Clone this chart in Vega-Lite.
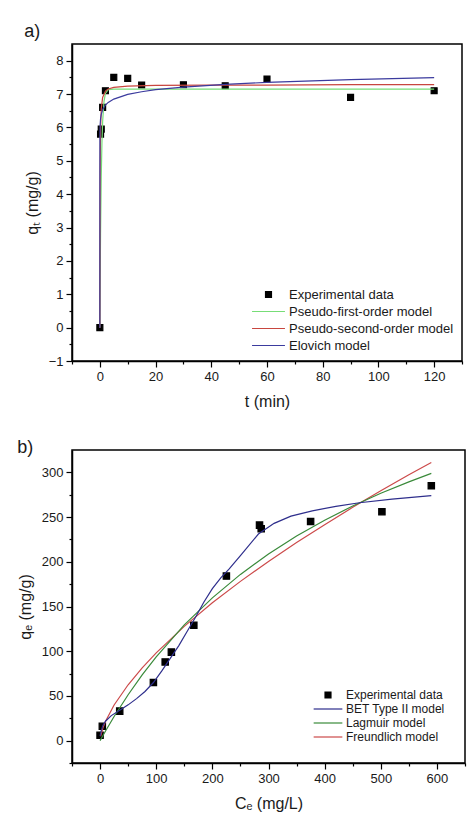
{
  "$schema": "https://vega.github.io/schema/vega-lite/v6.json",
  "padding": {"left": 16, "top": 22, "right": 4, "bottom": 4},
  "background": "white",
  "spacing": 28,
  "resolve": {"scale": {"color": "independent", "shape": "independent"}, "legend": {"color": "independent", "shape": "independent"}},
  "config": {
    "font": "Liberation Sans",
    "view": {"stroke": "black", "strokeWidth": 1.5},
    "axis": {
      "labelFontSize": 13, "titleFontSize": 16, "titleFontWeight": "normal",
      "labelColor": "#1a1a1a", "titleColor": "#1a1a1a",
      "domainColor": "black", "domainWidth": 1.5, "tickColor": "black", "tickWidth": 1.2,
      "labelPadding": 3, "grid": false, "labelFlush": false, "titlePadding": 8, "tickSize": 6
    },
    "title": {"fontSize": 18, "fontWeight": "normal", "anchor": "start", "frame": "bounds", "color": "#1a1a1a"},
    "legend": {"title": null, "padding": 0, "labelColor": "#1a1a1a", "symbolStrokeWidth": 1.2, "symbolSize": 49, "labelLimit": 300}
  },
  "datasets": {
    "kinPoints": [
      {"series": "Experimental data", "t": 0, "q": 0},
      {"series": "Experimental data", "t": 0.25, "q": 5.8},
      {"series": "Experimental data", "t": 0.5, "q": 5.95},
      {"series": "Experimental data", "t": 1, "q": 6.6},
      {"series": "Experimental data", "t": 2, "q": 7.1},
      {"series": "Experimental data", "t": 5, "q": 7.5},
      {"series": "Experimental data", "t": 10, "q": 7.47},
      {"series": "Experimental data", "t": 15, "q": 7.27},
      {"series": "Experimental data", "t": 30, "q": 7.28},
      {"series": "Experimental data", "t": 45, "q": 7.25},
      {"series": "Experimental data", "t": 60, "q": 7.45},
      {"series": "Experimental data", "t": 90, "q": 6.9},
      {"series": "Experimental data", "t": 120, "q": 7.1}
    ],
    "kinCurves": [
      {"series": "Pseudo-first-order model", "t": 0, "q": 0},
      {"series": "Pseudo-first-order model", "t": 0.05, "q": 0.68},
      {"series": "Pseudo-first-order model", "t": 0.1, "q": 1.3},
      {"series": "Pseudo-first-order model", "t": 0.25, "q": 2.81},
      {"series": "Pseudo-first-order model", "t": 0.5, "q": 4.52},
      {"series": "Pseudo-first-order model", "t": 0.75, "q": 5.55},
      {"series": "Pseudo-first-order model", "t": 1, "q": 6.18},
      {"series": "Pseudo-first-order model", "t": 1.5, "q": 6.79},
      {"series": "Pseudo-first-order model", "t": 2, "q": 7.02},
      {"series": "Pseudo-first-order model", "t": 3, "q": 7.13},
      {"series": "Pseudo-first-order model", "t": 5, "q": 7.15},
      {"series": "Pseudo-first-order model", "t": 30, "q": 7.15},
      {"series": "Pseudo-first-order model", "t": 60, "q": 7.15},
      {"series": "Pseudo-first-order model", "t": 120, "q": 7.15},
      {"series": "Pseudo-second-order model", "t": 0, "q": 0},
      {"series": "Pseudo-second-order model", "t": 0.02, "q": 1.94},
      {"series": "Pseudo-second-order model", "t": 0.05, "q": 3.47},
      {"series": "Pseudo-second-order model", "t": 0.1, "q": 4.7},
      {"series": "Pseudo-second-order model", "t": 0.25, "q": 5.97},
      {"series": "Pseudo-second-order model", "t": 0.5, "q": 6.56},
      {"series": "Pseudo-second-order model", "t": 1, "q": 6.9},
      {"series": "Pseudo-second-order model", "t": 2, "q": 7.09},
      {"series": "Pseudo-second-order model", "t": 3, "q": 7.15},
      {"series": "Pseudo-second-order model", "t": 5, "q": 7.2},
      {"series": "Pseudo-second-order model", "t": 10, "q": 7.24},
      {"series": "Pseudo-second-order model", "t": 20, "q": 7.26},
      {"series": "Pseudo-second-order model", "t": 40, "q": 7.27},
      {"series": "Pseudo-second-order model", "t": 60, "q": 7.27},
      {"series": "Pseudo-second-order model", "t": 90, "q": 7.28},
      {"series": "Pseudo-second-order model", "t": 120, "q": 7.28},
      {"series": "Elovich model", "t": 0, "q": 0},
      {"series": "Elovich model", "t": 0.02, "q": 5.75},
      {"series": "Elovich model", "t": 0.1, "q": 6.07},
      {"series": "Elovich model", "t": 0.25, "q": 6.26},
      {"series": "Elovich model", "t": 0.5, "q": 6.39},
      {"series": "Elovich model", "t": 1, "q": 6.53},
      {"series": "Elovich model", "t": 2, "q": 6.67},
      {"series": "Elovich model", "t": 3, "q": 6.75},
      {"series": "Elovich model", "t": 5, "q": 6.85},
      {"series": "Elovich model", "t": 10, "q": 6.99},
      {"series": "Elovich model", "t": 15, "q": 7.07},
      {"series": "Elovich model", "t": 20, "q": 7.13},
      {"series": "Elovich model", "t": 30, "q": 7.21},
      {"series": "Elovich model", "t": 45, "q": 7.29},
      {"series": "Elovich model", "t": 60, "q": 7.35},
      {"series": "Elovich model", "t": 90, "q": 7.43},
      {"series": "Elovich model", "t": 120, "q": 7.49}
    ],
    "isoPoints": [
      {"series": "Experimental data", "C": 0, "q": 6},
      {"series": "Experimental data", "C": 4, "q": 16},
      {"series": "Experimental data", "C": 35, "q": 33},
      {"series": "Experimental data", "C": 95, "q": 65},
      {"series": "Experimental data", "C": 116, "q": 88},
      {"series": "Experimental data", "C": 127, "q": 99},
      {"series": "Experimental data", "C": 167, "q": 129},
      {"series": "Experimental data", "C": 225, "q": 184},
      {"series": "Experimental data", "C": 284, "q": 241},
      {"series": "Experimental data", "C": 287, "q": 237},
      {"series": "Experimental data", "C": 375, "q": 245},
      {"series": "Experimental data", "C": 502, "q": 256},
      {"series": "Experimental data", "C": 590, "q": 285}
    ],
    "isoCurves": [
      {"series": "Freundlich model", "C": 1, "q": 4.92},
      {"series": "Freundlich model", "C": 5, "q": 14.0},
      {"series": "Freundlich model", "C": 10, "q": 22.0},
      {"series": "Freundlich model", "C": 25, "q": 39.9},
      {"series": "Freundlich model", "C": 50, "q": 62.5},
      {"series": "Freundlich model", "C": 75, "q": 81.4},
      {"series": "Freundlich model", "C": 100, "q": 98.2},
      {"series": "Freundlich model", "C": 150, "q": 127.8},
      {"series": "Freundlich model", "C": 200, "q": 154.1},
      {"series": "Freundlich model", "C": 250, "q": 178.1},
      {"series": "Freundlich model", "C": 300, "q": 200.4},
      {"series": "Freundlich model", "C": 350, "q": 221.5},
      {"series": "Freundlich model", "C": 400, "q": 241.5},
      {"series": "Freundlich model", "C": 450, "q": 260.9},
      {"series": "Freundlich model", "C": 500, "q": 279.5},
      {"series": "Freundlich model", "C": 550, "q": 297.3},
      {"series": "Freundlich model", "C": 590, "q": 311},
      {"series": "Lagmuir model", "C": 0, "q": 0},
      {"series": "Lagmuir model", "C": 10, "q": 11.1},
      {"series": "Lagmuir model", "C": 25, "q": 27.0},
      {"series": "Lagmuir model", "C": 50, "q": 51.3},
      {"series": "Lagmuir model", "C": 75, "q": 73.5},
      {"series": "Lagmuir model", "C": 100, "q": 93.7},
      {"series": "Lagmuir model", "C": 150, "q": 129.4},
      {"series": "Lagmuir model", "C": 200, "q": 159.7},
      {"series": "Lagmuir model", "C": 250, "q": 185.9},
      {"series": "Lagmuir model", "C": 300, "q": 208.7},
      {"series": "Lagmuir model", "C": 350, "q": 228.8},
      {"series": "Lagmuir model", "C": 400, "q": 246.5},
      {"series": "Lagmuir model", "C": 450, "q": 262.4},
      {"series": "Lagmuir model", "C": 500, "q": 276.6},
      {"series": "Lagmuir model", "C": 550, "q": 289.4},
      {"series": "Lagmuir model", "C": 590, "q": 298.8},
      {"series": "BET Type II model", "C": 0, "q": 5},
      {"series": "BET Type II model", "C": 2, "q": 11},
      {"series": "BET Type II model", "C": 5, "q": 17},
      {"series": "BET Type II model", "C": 10, "q": 22},
      {"series": "BET Type II model", "C": 20, "q": 28},
      {"series": "BET Type II model", "C": 35, "q": 34},
      {"series": "BET Type II model", "C": 50, "q": 40},
      {"series": "BET Type II model", "C": 65, "q": 47},
      {"series": "BET Type II model", "C": 80, "q": 55},
      {"series": "BET Type II model", "C": 95, "q": 65},
      {"series": "BET Type II model", "C": 110, "q": 78},
      {"series": "BET Type II model", "C": 125, "q": 92},
      {"series": "BET Type II model", "C": 140, "q": 106},
      {"series": "BET Type II model", "C": 155, "q": 122},
      {"series": "BET Type II model", "C": 170, "q": 138},
      {"series": "BET Type II model", "C": 185, "q": 155},
      {"series": "BET Type II model", "C": 200, "q": 170},
      {"series": "BET Type II model", "C": 215, "q": 182},
      {"series": "BET Type II model", "C": 230, "q": 192},
      {"series": "BET Type II model", "C": 250, "q": 207},
      {"series": "BET Type II model", "C": 282, "q": 231},
      {"series": "BET Type II model", "C": 310, "q": 243},
      {"series": "BET Type II model", "C": 340, "q": 251},
      {"series": "BET Type II model", "C": 378, "q": 257},
      {"series": "BET Type II model", "C": 420, "q": 262},
      {"series": "BET Type II model", "C": 462, "q": 266},
      {"series": "BET Type II model", "C": 520, "q": 270},
      {"series": "BET Type II model", "C": 590, "q": 274}
    ]
  },
  "vconcat": [
    {
      "width": 390,
      "height": 317,
      "title": {"text": "a)", "offset": 3},
      "resolve": {"axis": {"x": "independent", "y": "independent"}},
      "layer": [
        {
          "data": {"name": "kinPoints"},
          "mark": {"type": "point", "filled": false, "fill": "black", "fillOpacity": 1, "strokeWidth": 1.2, "size": 49, "opacity": 1},
          "encoding": {
            "x": {"field": "t", "type": "quantitative",
              "scale": {"domain": [-10, 130], "nice": false, "zero": false},
              "axis": {"title": "t (min)", "titlePadding": 10, "orient": "bottom",
                "values": [0, 20, 40, 60, 80, 100, 120]}},
            "y": {"field": "q", "type": "quantitative",
              "scale": {"domain": [-1, 8.5], "nice": false, "zero": false},
              "axis": {"title": "qₜ (mg/g)", "orient": "left",
                "values": [-1, 0, 1, 2, 3, 4, 5, 6, 7, 8]}},
            "color": {"field": "series", "type": "nominal",
              "scale": {"domain": ["Experimental data", "Pseudo-first-order model", "Pseudo-second-order model", "Elovich model"],
                "range": ["#000000", "#77dd77", "#c8463f", "#3b3b9e"]},
              "legend": {"orient": "bottom-right", "offset": 8, "labelFontSize": 13, "rowPadding": 3, "labelOffset": 14}},
            "shape": {"field": "series", "type": "nominal",
              "scale": {"domain": ["Experimental data", "Pseudo-first-order model", "Pseudo-second-order model", "Elovich model"],
                "range": ["M-0.85,-0.85H0.85V0.85H-0.85Z", "M-4.7,0H4.7", "M-4.7,0H4.7", "M-4.7,0H4.7"]},
              "legend": {"orient": "bottom-right", "offset": 8, "labelFontSize": 13, "rowPadding": 3, "labelOffset": 14}}
          }
        },
        {
          "data": {"name": "kinCurves"},
          "mark": {"type": "line", "strokeWidth": 1.2},
          "encoding": {
            "x": {"field": "t", "type": "quantitative",
              "scale": {"domain": [-10, 130], "nice": false, "zero": false},
              "axis": {"title": null, "orient": "bottom", "labels": false, "domain": false, "tickSize": 3,
                "values": [-10, 10, 30, 50, 70, 90, 110, 130]}},
            "y": {"field": "q", "type": "quantitative",
              "scale": {"domain": [-1, 8.5], "nice": false, "zero": false},
              "axis": {"title": null, "orient": "left", "labels": false, "domain": false, "tickSize": 3,
                "values": [-0.5, 0.5, 1.5, 2.5, 3.5, 4.5, 5.5, 6.5, 7.5]}},
            "color": {"field": "series", "type": "nominal", "legend": null}
          }
        }
      ]
    },
    {
      "width": 393,
      "height": 313,
      "title": {"text": "b)", "offset": -7},
      "resolve": {"axis": {"x": "independent", "y": "independent"}},
      "layer": [
        {
          "data": {"name": "isoPoints"},
          "mark": {"type": "point", "filled": false, "fill": "black", "fillOpacity": 1, "strokeWidth": 1.2, "size": 56, "opacity": 1},
          "encoding": {
            "x": {"field": "C", "type": "quantitative",
              "scale": {"domain": [-50, 650], "nice": false, "zero": false},
              "axis": {"title": "Cₑ (mg/L)", "titlePadding": 10, "orient": "bottom",
                "values": [0, 100, 200, 300, 400, 500, 600]}},
            "y": {"field": "q", "type": "quantitative",
              "scale": {"domain": [-25, 325], "nice": false, "zero": false},
              "axis": {"title": "qₑ (mg/g)", "orient": "left",
                "values": [0, 50, 100, 150, 200, 250, 300]}},
            "color": {"field": "series", "type": "nominal",
              "scale": {"domain": ["Experimental data", "BET Type II model", "Lagmuir model", "Freundlich model"],
                "range": ["#000000", "#2e2e8c", "#3a8a3a", "#cc4a4a"]},
              "legend": {"orient": "bottom-right", "offset": 20, "labelFontSize": 12, "rowPadding": 2, "labelOffset": 12}},
            "shape": {"field": "series", "type": "nominal",
              "scale": {"domain": ["Experimental data", "BET Type II model", "Lagmuir model", "Freundlich model"],
                "range": ["M-0.85,-0.85H0.85V0.85H-0.85Z", "M-4.1,0H4.1", "M-4.1,0H4.1", "M-4.1,0H4.1"]},
              "legend": {"orient": "bottom-right", "offset": 20, "labelFontSize": 12, "rowPadding": 2, "labelOffset": 12}}
          }
        },
        {
          "data": {"name": "isoCurves"},
          "mark": {"type": "line", "strokeWidth": 1.2},
          "encoding": {
            "x": {"field": "C", "type": "quantitative",
              "scale": {"domain": [-50, 650], "nice": false, "zero": false},
              "axis": {"title": null, "orient": "bottom", "labels": false, "domain": false, "tickSize": 3,
                "values": [-50, 50, 150, 250, 350, 450, 550, 650]}},
            "y": {"field": "q", "type": "quantitative",
              "scale": {"domain": [-25, 325], "nice": false, "zero": false},
              "axis": {"title": null, "orient": "left", "labels": false, "domain": false, "tickSize": 3,
                "values": [-25, 25, 75, 125, 175, 225, 275]}},
            "color": {"field": "series", "type": "nominal", "legend": null}
          }
        }
      ]
    }
  ]
}
